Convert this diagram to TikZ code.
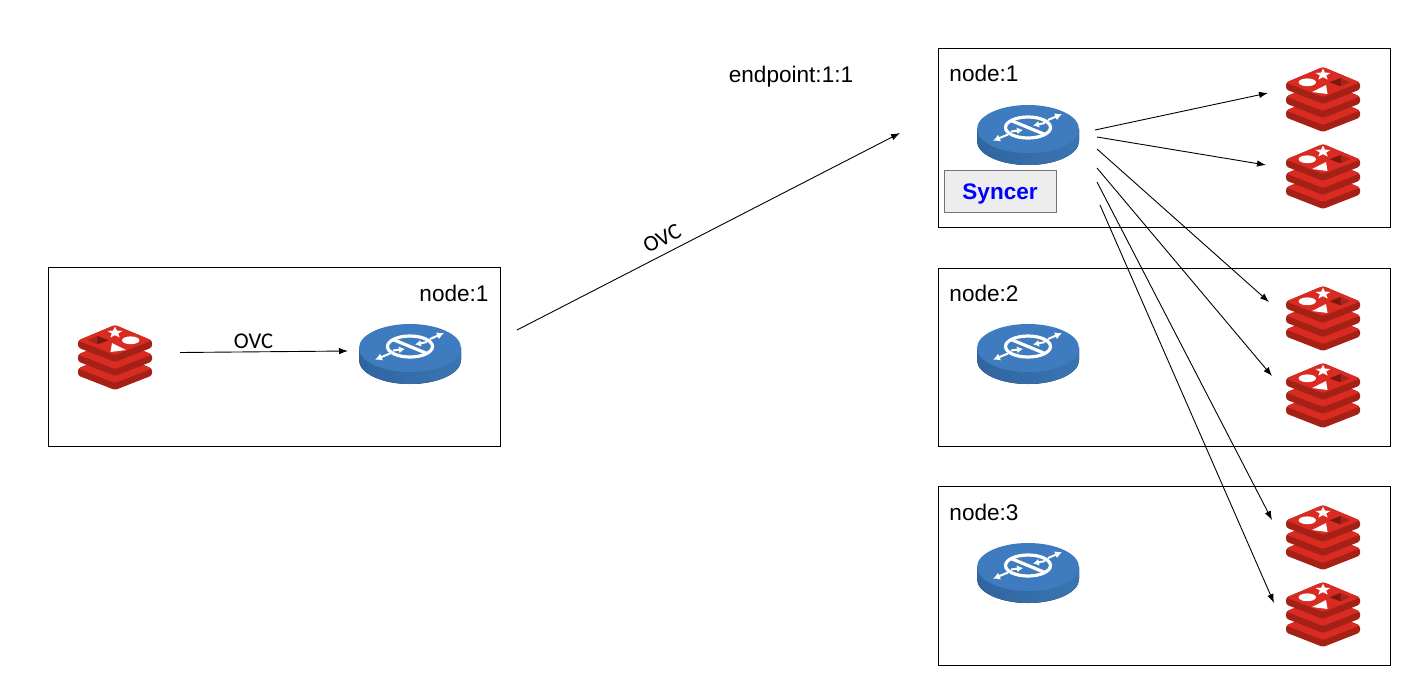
\documentclass[tikz,border=0pt]{standalone}
\usepackage{fontspec}
\setmainfont{Liberation Sans}
\newfontfamily\ovcfont{Carlito}
\usetikzlibrary{arrows.meta}
\definecolor{rface}{HTML}{D92B22}
\definecolor{rband}{HTML}{A52015}
\definecolor{rdark}{HTML}{7A1810}
\definecolor{rmid}{HTML}{A82318}
\definecolor{rtop}{HTML}{3F7CBF}
\definecolor{rsideA}{HTML}{2F659F}
\definecolor{rsideB}{HTML}{3A75B3}
\tikzset{
  x=1pt,y=-1pt,
  frame/.style={draw=black,line width=0.9pt,fill=none},
  lbl/.style={font=\fontsize{22.6}{25}\selectfont,inner sep=0pt,text=black},
  ovc/.style={font=\ovcfont\fontsize{22.5}{25}\selectfont,inner sep=0pt,text=black},
  arr/.style={draw=black,line width=0.9pt,-{Latex[length=9pt,width=6.5pt]}},
  syncbox/.style={draw=black!55,line width=1pt,fill=black!7,minimum width=112pt,minimum height=42pt,inner sep=0pt,
     font=\fontsize{22.5}{24}\selectfont\bfseries,text={rgb:blue,1},text height=21pt,text depth=4.5pt},
  iconbox/.style={inner sep=0pt,draw=none,fill=none},
  redislayer/.pic={
    \fill[rband,rounded corners=2.5pt] (-37,15.5) -- (-37,22.5) -- (0,37) -- (37,22.5) -- (37,15.5) -- (0,0) -- cycle;
    \fill[rface,rounded corners=2.5pt] (-37,15.5) -- (0,0) -- (37,15.5) -- (0,30) -- cycle;
  },
  redisicon/.pic={
    \pic at (0,28) {redislayer};
    \pic at (0,14) {redislayer};
    \pic at (0,0) {redislayer};
    \fill[white] (0,1.7) -- (1.97,5.66) -- (7.6,5.85) -- (3.2,8.48) -- (4.7,12.55) -- (0,10.22) -- (-4.7,12.55) -- (-3.2,8.48) -- (-7.6,5.85) -- (-1.97,5.66) -- cycle;
    \fill[white] (-15.7,15.3) circle[x radius=8.7pt,y radius=3.9pt];
    \fill[white] (-11,25) -- (3,18) -- (4.5,27) -- cycle;
    \fill[rmid] (6.7,15.3) -- (17.7,11) -- (27,15.3) -- (17.7,19.3) -- cycle;
    \fill[rdark] (6.7,15.3) -- (17.7,11) -- (17.7,19.3) -- cycle;
  },
  routericon/.pic={
    \fill[left color=rsideA,right color=rsideB] (-51,0) -- (-51,12) arc[start angle=180,end angle=360,x radius=51pt,y radius=24pt] -- (51,0) -- cycle;
    \fill[rtop] (0,0) circle[x radius=51pt,y radius=24pt];
    \draw[white,line width=3.2pt] (0,-1.5) circle[x radius=22.5pt,y radius=10.5pt];
    \draw[white,line width=3.2pt] (-17,-8.5) -- (17,5.5);
    \draw[white,line width=2pt,{Latex[length=7pt,width=7.5pt]}-] (-35,11.7) -- (-20,5.5);
    \draw[white,line width=2pt,{Latex[length=7pt,width=7.5pt]}-] (34,-15) -- (20,-9);
    \draw[white,line width=2pt,-{Latex[length=6pt,width=7pt]}] (-17,2.5) -- (-5,1);
    \draw[white,line width=2pt,-{Latex[length=6pt,width=7pt]}] (17,-6) -- (5,-3.5);
  }
}
\begin{document}
\begin{tikzpicture}
\useasboundingbox (0,0) rectangle (1405,673);
\fill[white] (0,0) rectangle (1405,673);

% frames
\node[frame,minimum width=452pt,minimum height=179pt,inner sep=0pt] (boxL) at (274,356.5) {};
\node[frame,minimum width=452.5pt,minimum height=179pt,inner sep=0pt] (boxA) at (1164.3,138) {};
\node[frame,minimum width=452.5pt,minimum height=178pt,inner sep=0pt] (boxB) at (1164.3,357) {};
\node[frame,minimum width=452.5pt,minimum height=178.5pt,inner sep=0pt] (boxC) at (1164.3,575.7) {};

% icons
\pic[xscale=-1] at (115,325) {redisicon};
\node[iconbox,minimum width=75pt,minimum height=65pt] (redisL) at (115,357) {};
\pic at (410,348) {routericon};
\node[iconbox,minimum width=102pt,minimum height=60pt] (routerL) at (410,354) {};
\pic at (1028,129) {routericon};
\node[iconbox,minimum width=102pt,minimum height=60pt] (routerA) at (1028,135) {};
\pic at (1028,348) {routericon};
\node[iconbox,minimum width=102pt,minimum height=60pt] (routerB) at (1028,354) {};
\pic at (1028,567) {routericon};
\node[iconbox,minimum width=102pt,minimum height=60pt] (routerC) at (1028,573) {};
\foreach \n/\yy in {a/67,b/144,c/286,d/363,e/505,f/582}{
  \pic at (1323,\yy) {redisicon};
  \node[iconbox,minimum width=75pt,minimum height=65pt] (redis\n) at (1323,\yy+32) {};
}

% text
\node[lbl] (nL) at (454,293.5) {node:1};
\node[lbl] (nA) at (984,73.5) {node:1};
\node[lbl] (nB) at (984,293.5) {node:2};
\node[lbl] (nC) at (984,512.5) {node:3};
\node[lbl] (ep) at (791,77) {endpoint:1:1};
\node[syncbox] (sync) at (1000,191) {Syncer};
\node[ovc] (ovcA) at (253.5,341) {OVC};
\node[ovc,rotate=27] (ovcB) at (662,238.5) {OVC};

% connector end points
\coordinate (sL) at (180,352.5);
\coordinate (tL) at (348,351);
\coordinate (sX) at (517,330);
\coordinate (tX) at (900,133);
\coordinate (s1) at (1095,130);
\coordinate (t1) at (1268,93);
\coordinate (s2) at (1097,137);
\coordinate (t2) at (1266,165);
\coordinate (s3) at (1097,149);
\coordinate (t3) at (1269,302);
\coordinate (s4) at (1097,168);
\coordinate (t4) at (1272,376);
\coordinate (s5) at (1097,182);
\coordinate (t5) at (1272,520);
\coordinate (s6) at (1100,205);
\coordinate (t6) at (1274,603);

\draw[arr] (sL) -- (tL);
\draw[arr] (sX) -- (tX);
\foreach \i in {1,...,6}{ \draw[arr] (s\i) -- (t\i); }
\end{tikzpicture}
\end{document}
